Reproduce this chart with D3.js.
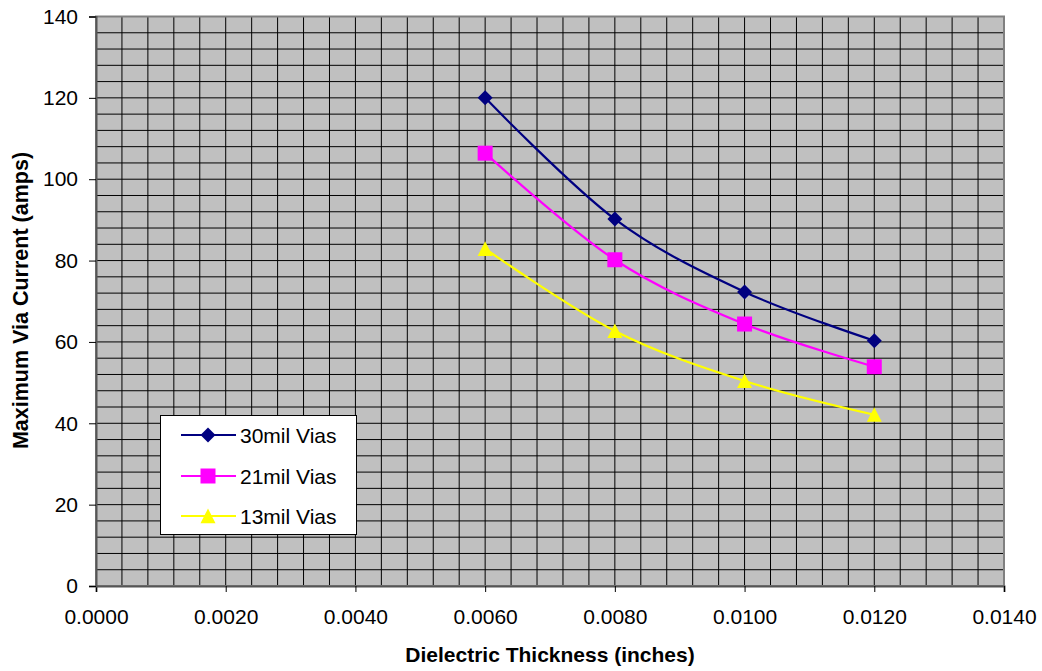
<!DOCTYPE html>
<html>
<head>
<meta charset="utf-8">
<script src="https://cdn.jsdelivr.net/npm/d3@7"></script>
<style>
  html, body { margin: 0; padding: 0; background: #fff; }
  svg { display: block; font-family: Arial, "Liberation Sans", sans-serif; }
</style>
</head>
<body>
<svg id="chart" width="1042" height="671"></svg>
<script>
// Dielectric thickness (inches) at which each via size was evaluated
const thickness = [0.006, 0.008, 0.010, 0.012];

// Maximum via current (amps) per via size
const via30 = [120.0, 90.2, 72.3, 60.3];
const via21 = [106.4, 80.2, 64.4, 53.9];
const via13 = [82.9, 62.7, 50.4, 42.1];

const seriesNames = ["30mil Vias", "21mil Vias", "13mil Vias"];
const seriesColors = ["#000080", "#FF00FF", "#FFFF00"];
const seriesShapes = ["diamond", "square", "triangle"];

const xTicks = [0, 0.002, 0.004, 0.006, 0.008, 0.010, 0.012, 0.014];
const yTicks = [0, 20, 40, 60, 80, 100, 120, 140];

const series = [via30, via21, via13].map((vals, i) => ({
  name: seriesNames[i],
  color: seriesColors[i],
  shape: seriesShapes[i],
  points: thickness.map((t, j) => ({ x: t, y: vals[j] }))
}));

const svg = d3.select("#chart");
const plot = { left: 96, right: 1004, top: 16.5, bottom: 586 };

const x = d3.scaleLinear().domain([0, 0.014]).range([plot.left, plot.right]);
const y = d3.scaleLinear().domain([0, 140]).range([plot.bottom, plot.top]);

// Plot background
svg.append("rect")
  .attr("x", plot.left).attr("y", plot.top)
  .attr("width", plot.right - plot.left).attr("height", plot.bottom - plot.top)
  .attr("fill", "#C0C0C0");

// Major and minor gridlines
const grid = svg.append("g").attr("stroke", "#000").attr("stroke-width", 1);
d3.range(0, 0.0140001, 0.0004).forEach(v => {
  grid.append("line")
    .attr("x1", x(v)).attr("x2", x(v))
    .attr("y1", plot.top).attr("y2", plot.bottom);
});
d3.range(0, 140.001, 4).forEach(v => {
  grid.append("line")
    .attr("x1", plot.left).attr("x2", plot.right)
    .attr("y1", y(v)).attr("y2", y(v));
});

// Plot area border
svg.append("rect")
  .attr("x", plot.left).attr("y", plot.top)
  .attr("width", plot.right - plot.left).attr("height", plot.bottom - plot.top)
  .attr("fill", "none").attr("stroke", "#808080").attr("stroke-width", 2);

// Axes
const xAxis = d3.axisBottom(x).tickValues(xTicks).tickFormat(d3.format(".4f"))
  .tickSize(6).tickPadding(14);
const yAxis = d3.axisLeft(y).tickValues(yTicks).tickFormat(d3.format("d"))
  .tickSize(7).tickPadding(11);

const gx = svg.append("g").attr("transform", `translate(0,${plot.bottom})`).call(xAxis);
const gy = svg.append("g").attr("transform", `translate(${plot.left},0)`).call(yAxis);
[gx, gy].forEach(g => {
  g.select(".domain").attr("stroke", "#555").attr("stroke-width", 2);
  g.selectAll(".tick line").attr("stroke", "#000");
  g.selectAll(".tick text")
    .attr("fill", "#000")
    .style("font-size", "21px")
    .style("font-family", "Arial, 'Liberation Sans', sans-serif");
});
gx.selectAll(".tick text").attr("dy", "0.88em");

// Axis titles
svg.append("text")
  .attr("x", 550)
  .attr("y", 662)
  .attr("text-anchor", "middle")
  .attr("font-weight", "bold")
  .attr("font-size", "21px")
  .text("Dielectric Thickness (inches)");

svg.append("text")
  .attr("transform", "translate(28,300.5) rotate(-90)")
  .attr("text-anchor", "middle")
  .attr("font-weight", "bold")
  .attr("font-size", "21.5px")
  .text("Maximum Via Current (amps)");

// Smoothed series lines and markers
const line = d3.line()
  .x(d => x(d.x)).y(d => y(d.y))
  .curve(d3.curveCatmullRom.alpha(0));

series.forEach(s => {
  svg.append("path")
    .datum(s.points)
    .attr("d", line)
    .attr("fill", "none")
    .attr("stroke", s.color)
    .attr("stroke-width", 2.2);
});

// Marker outlines centred on the data point
function markerPath(shape) {
  const p = d3.path();
  if (shape === "diamond") {
    const r = 7.5;
    p.moveTo(0, -r); p.lineTo(r, 0); p.lineTo(0, r); p.lineTo(-r, 0); p.closePath();
  } else if (shape === "square") {
    const h = 7.5;
    p.rect(-h, -h, 2 * h, 2 * h);
  } else {
    const h = 7.5;
    p.moveTo(0, -h); p.lineTo(h, h * 0.95); p.lineTo(-h, h * 0.95); p.closePath();
  }
  return p.toString();
}

series.forEach(s => {
  svg.append("g").selectAll("path")
    .data(s.points)
    .join("path")
    .attr("transform", d => `translate(${x(d.x)},${y(d.y)})`)
    .attr("d", markerPath(s.shape))
    .attr("fill", s.color);
});

// Legend
const legend = svg.append("g");
legend.append("rect")
  .attr("x", 160.5).attr("y", 415.5)
  .attr("width", 196).attr("height", 119)
  .attr("fill", "#fff").attr("stroke", "#000").attr("stroke-width", 1);

const legendRows = [435, 476, 516];
series.forEach((s, i) => {
  const ly = legendRows[i];
  legend.append("line")
    .attr("x1", 181).attr("x2", 236)
    .attr("y1", ly).attr("y2", ly)
    .attr("stroke", s.color).attr("stroke-width", 2.2);
  legend.append("path")
    .attr("transform", `translate(208,${ly})`)
    .attr("d", markerPath(s.shape))
    .attr("fill", s.color);
  legend.append("text")
    .attr("x", 240).attr("y", ly)
    .attr("dy", "0.36em")
    .attr("font-size", "21px")
    .text(s.name);
});
</script>
</body>
</html>
